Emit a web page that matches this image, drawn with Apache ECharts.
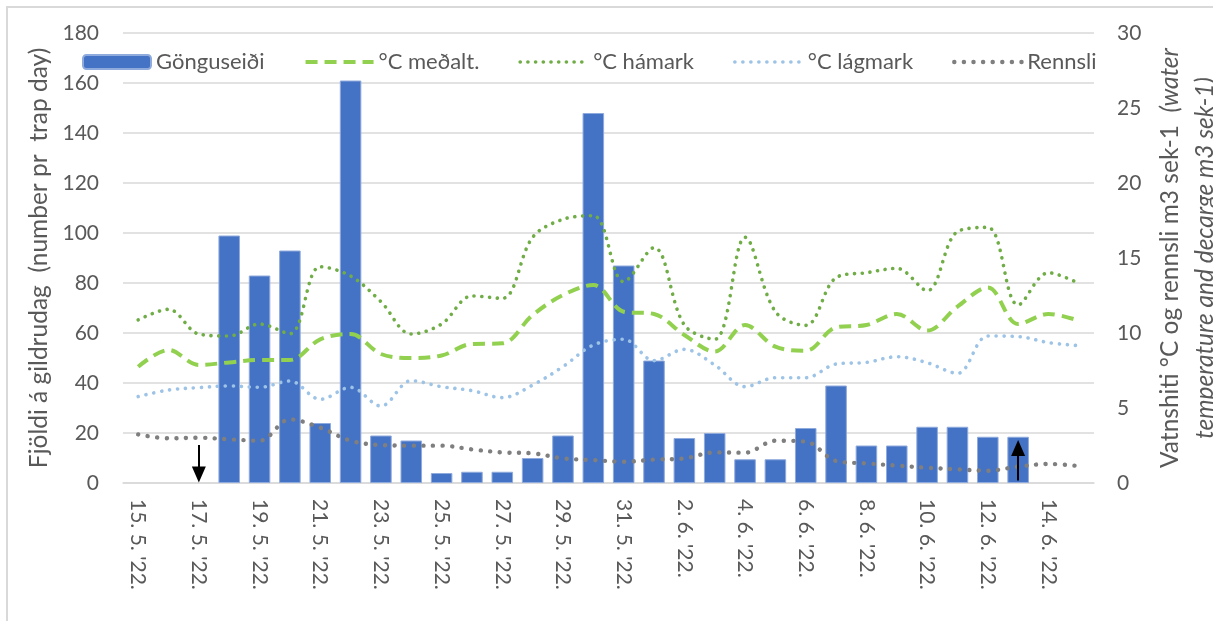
<!DOCTYPE html>
<html>
<head>
<meta charset="utf-8">
<script src="https://cdn.jsdelivr.net/npm/echarts@6/dist/echarts.min.js"></script>
<style>
html,body{margin:0;padding:0;background:#fff;}
#chart{position:absolute;left:0;top:0;width:1213px;height:621px;}
#frame{position:absolute;left:6px;top:6px;width:1220px;height:640px;border-left:2px solid #D9D9D9;border-top:2px solid #D9D9D9;pointer-events:none;}
</style>
</head>
<body>
<div id="chart"></div>
<div id="frame"></div>
<script>
const categories = ["15. 5. '22.","16. 5. '22.","17. 5. '22.","18. 5. '22.","19. 5. '22.","20. 5. '22.","21. 5. '22.","22. 5. '22.","23. 5. '22.","24. 5. '22.","25. 5. '22.","26. 5. '22.","27. 5. '22.","28. 5. '22.","29. 5. '22.","30. 5. '22.","31. 5. '22.","1. 6. '22.","2. 6. '22.","3. 6. '22.","4. 6. '22.","5. 6. '22.","6. 6. '22.","7. 6. '22.","8. 6. '22.","9. 6. '22.","10. 6. '22.","11. 6. '22.","12. 6. '22.","13. 6. '22.","14. 6. '22.","15. 6. '22."];
const gonguseidi = [null,null,null,99,83,93,24,161,19,17,4,4.5,4.5,10,19,148,87,49,18,20,9.5,9.5,22,39,15,15,22.5,22.5,18.5,18.5,null,null];
const medalt = [7.75,8.87,7.87,8.04,8.2,8.2,9.58,9.93,8.6,8.33,8.5,9.27,9.31,11.2,12.53,13.2,11.42,11.27,9.87,8.76,10.53,9.09,8.82,10.38,10.53,11.27,10.16,11.76,13.04,10.6,11.27,10.82];
const hamark = [10.87,11.58,9.93,9.8,10.6,9.95,14.42,13.8,12.09,9.93,10.6,12.47,12.31,16.38,17.58,17.82,13.42,15.69,10.53,9.58,16.38,11.42,10.51,13.69,14.02,14.31,12.82,16.76,17.04,11.87,14.02,13.31];
const lagmark = [5.76,6.2,6.36,6.47,6.38,6.8,5.58,6.38,5.13,6.82,6.42,6.16,5.69,6.53,7.76,9.2,9.58,8.16,8.91,7.87,6.42,7.02,7.02,7.93,8.04,8.42,8.02,7.31,9.8,9.76,9.36,9.16];
const rennsli = [3.24,2.98,3.02,2.91,2.82,4.24,3.69,2.82,2.53,2.49,2.49,2.24,2.04,1.98,1.64,1.53,1.42,1.56,1.64,2.04,2.02,2.82,2.76,1.47,1.31,1.16,1.02,0.91,0.82,1.09,1.27,1.13];
const leftTicks = [0,20,40,60,80,100,120,140,160,180];
const rightTicks = [0,5,10,15,20,25,30];
// arrows: [category, fromValue, toValue] on the left axis
const arrowDown = ["17. 5. '22.", 15.2, 3.4];
const arrowUp = ["13. 6. '22.", 1.0, 14];

const grey = '#595959';
const styles = {
  mean: { color: '#92D050', width: 4, type: [12, 7], cap: 'butt' },
  max: { color: '#70AD47', width: 3.6, type: [0.1, 7.6], cap: 'round' },
  min: { color: '#9DC3E6', width: 3.6, type: [0.1, 7.9], cap: 'round' },
  flow: { color: '#7F7F7F', width: 4.4, type: [0.1, 9.5], cap: 'round' }
};
const chart = echarts.init(document.getElementById('chart'));
const option = {
  animation: false,
  backgroundColor: '#fff',
  textStyle: { fontFamily: 'Lato' },
  grid: { left: 123, right: 119, top: 33, bottom: 138, containLabel: false, outerBoundsMode: 'none' },
  legend: {
    left: 77, top: 46, itemWidth: 68, itemHeight: 14, itemGap: 39,
    textStyle: { fontSize: 22, color: grey },
    data: [
      { name: 'Gönguseiði' },
      { name: '°C meðalt.', itemStyle: { opacity: 0 }, lineStyle: styles.mean },
      { name: '°C hámark', itemStyle: { opacity: 0 }, lineStyle: styles.max },
      { name: '°C lágmark', itemStyle: { opacity: 0 }, lineStyle: styles.min },
      { name: 'Rennsli', itemStyle: { opacity: 0 }, lineStyle: styles.flow }
    ]
  },
  xAxis: {
    type: 'category', data: categories,
    axisLine: { lineStyle: { color: '#D9D9D9', width: 1.5 } },
    axisTick: { show: false },
    axisLabel: { interval: 1, rotate: -90, margin: 16, fontSize: 21, color: grey }
  },
  yAxis: [
    {
      type: 'value', min: leftTicks[0], max: leftTicks[leftTicks.length - 1], interval: 20,
      axisLine: { show: false }, axisTick: { show: false },
      axisLabel: { fontSize: 21, color: grey, margin: 24 },
      splitLine: { lineStyle: { color: '#D9D9D9', width: 1.5 } },
      name: 'Fjöldi á gildrudag  (number pr  trap day)',
      nameLocation: 'middle', nameGap: 71,
      nameTextStyle: { fontSize: 24.5, color: grey }
    },
    {
      type: 'value', min: rightTicks[0], max: rightTicks[rightTicks.length - 1], interval: 5,
      position: 'right',
      axisLine: { show: false }, axisTick: { show: false },
      axisLabel: { fontSize: 21, color: grey, margin: 23 },
      splitLine: { show: false },
      name: '{n|Vatnshiti °C og rennsli m3 sek-1  }{i|(water}\n{i|temperature and decarge m3 sek-1)}',
      nameLocation: 'middle', nameGap: 55, nameRotate: 90,
      nameTextStyle: {
        fontSize: 24.5, color: grey, lineHeight: 35,
        rich: {
          n: { fontSize: 24.5, color: grey, lineHeight: 35 },
          i: { fontSize: 24.5, color: grey, fontStyle: 'italic', lineHeight: 35 }
        }
      }
    }
  ],
  series: [
    {
      name: 'Gönguseiði', type: 'bar', data: gonguseidi, yAxisIndex: 0,
      barCategoryGap: '29%',
      itemStyle: { color: '#4472C4', borderColor: '#8FAADC', borderWidth: 1 },
      markLine: {
        silent: true, symbol: ['none', 'triangle'], symbolSize: [14, 16], precision: 2,
        lineStyle: { color: '#000', width: 2, type: 'solid' },
        label: { show: false }, emphasis: { disabled: true },
        data: [
          [{ coord: [arrowDown[0], arrowDown[1]] }, { coord: [arrowDown[0], arrowDown[2]] }],
          [{ coord: [arrowUp[0], arrowUp[1]] }, { coord: [arrowUp[0], arrowUp[2]] }]
        ]
      }
    },
    {
      name: '°C meðalt.', type: 'line', data: medalt, yAxisIndex: 1, smooth: 0.35,
      symbol: 'none', lineStyle: styles.mean, itemStyle: { color: styles.mean.color }
    },
    {
      name: '°C hámark', type: 'line', data: hamark, yAxisIndex: 1, smooth: 0.35,
      symbol: 'none', lineStyle: styles.max, itemStyle: { color: styles.max.color }
    },
    {
      name: '°C lágmark', type: 'line', data: lagmark, yAxisIndex: 1, smooth: 0.35,
      symbol: 'none', lineStyle: styles.min, itemStyle: { color: styles.min.color }
    },
    {
      name: 'Rennsli', type: 'line', data: rennsli, yAxisIndex: 1, smooth: 0.35,
      symbol: 'none', lineStyle: styles.flow, itemStyle: { color: styles.flow.color }
    }
  ]
};
chart.setOption(option);
</script>
</body>
</html>
